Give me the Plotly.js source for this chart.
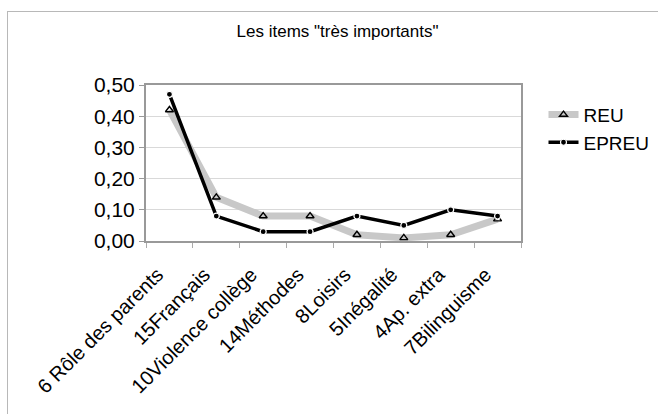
<!DOCTYPE html>
<html>
<head>
<meta charset="utf-8">
<script src="https://cdn.plot.ly/plotly-3.0.1.min.js"></script>
<style>
html,body{margin:0;padding:0;background:#fff;}
#wrap{position:relative;width:658px;height:414px;overflow:hidden;}
#frame{position:absolute;left:7px;top:11px;width:700px;height:500px;border-top:1px solid #b8b8b8;border-left:1px solid #b8b8b8;pointer-events:none;}
#chart{position:absolute;left:0;top:0;width:658px;height:414px;}
</style>
</head>
<body>
<div id="wrap">
<div id="chart"></div>
<div id="frame"></div>
</div>
<script>
const categories = ["6 Rôle des parents","15Français","10Violence collège","14Méthodes","8Loisirs","5Inégalité","4Ap. extra","7Bilinguisme"];
const reu = [0.42, 0.14, 0.08, 0.08, 0.02, 0.01, 0.02, 0.07];
const epreu = [0.47, 0.08, 0.03, 0.03, 0.08, 0.05, 0.10, 0.08];
const yTicks = [0, 0.1, 0.2, 0.3, 0.4, 0.5];

const font = "Liberation Sans, Arial, sans-serif";
const traces = [
  {
    x: categories, y: reu, name: "REU", type: "scatter", mode: "lines+markers",
    line: {color: "#c8c8c8", width: 7},
    marker: {symbol: "triangle-up-open", size: 7, color: "#000", line: {width: 1.4, color: "#000"}}
  },
  {
    x: categories, y: epreu, name: "EPREU", type: "scatter", mode: "lines+markers",
    line: {color: "#000", width: 3.5},
    marker: {symbol: "circle", size: 6, color: "#000", line: {width: 1.2, color: "#fff"}}
  }
];
const layout = {
  width: 658, height: 414,
  paper_bgcolor: "rgba(0,0,0,0)", plot_bgcolor: "#fff",
  separators: ", ",
  margin: {l: 146, r: 137, t: 85, b: 173, autoexpand: false},
  title: {text: "Les items \"très importants\"", font: {family: font, size: 17, color: "#000"}, x: 0.513, xanchor: "center", y: 0.925, yanchor: "middle"},
  showlegend: true,
  legend: {x: 1.06, y: 0.72, xanchor: "left", yanchor: "middle", font: {family: font, size: 19, color: "#000"}, itemwidth: 30, tracegroupgap: 0, bgcolor: "rgba(0,0,0,0)"},
  xaxis: {
    type: "category", range: [-0.5, 7.5], tickangle: -45, automargin: false,
    tickson: "boundaries", ticks: "outside", ticklen: 5, tickcolor: "#aaa",
    showline: true, linecolor: "#999", linewidth: 2, mirror: true,
    showgrid: false, zeroline: false, ticklabelstandoff: 12, ticklabelshift: -12,
    tickfont: {family: font, size: 20, color: "#000"}
  },
  yaxis: {
    range: [0, 0.5], tickvals: yTicks, tickformat: ".2f", automargin: false,
    ticks: "outside", ticklen: 5, tickcolor: "#999",
    showline: true, linecolor: "#999", linewidth: 2, mirror: true,
    showgrid: true, gridcolor: "#d9d9d9", gridwidth: 1, zeroline: false,
    tickfont: {family: font, size: 21, color: "#000"}
  }
};
Plotly.newPlot("chart", traces, layout, {displayModeBar: false, staticPlot: true});
</script>
</body>
</html>
